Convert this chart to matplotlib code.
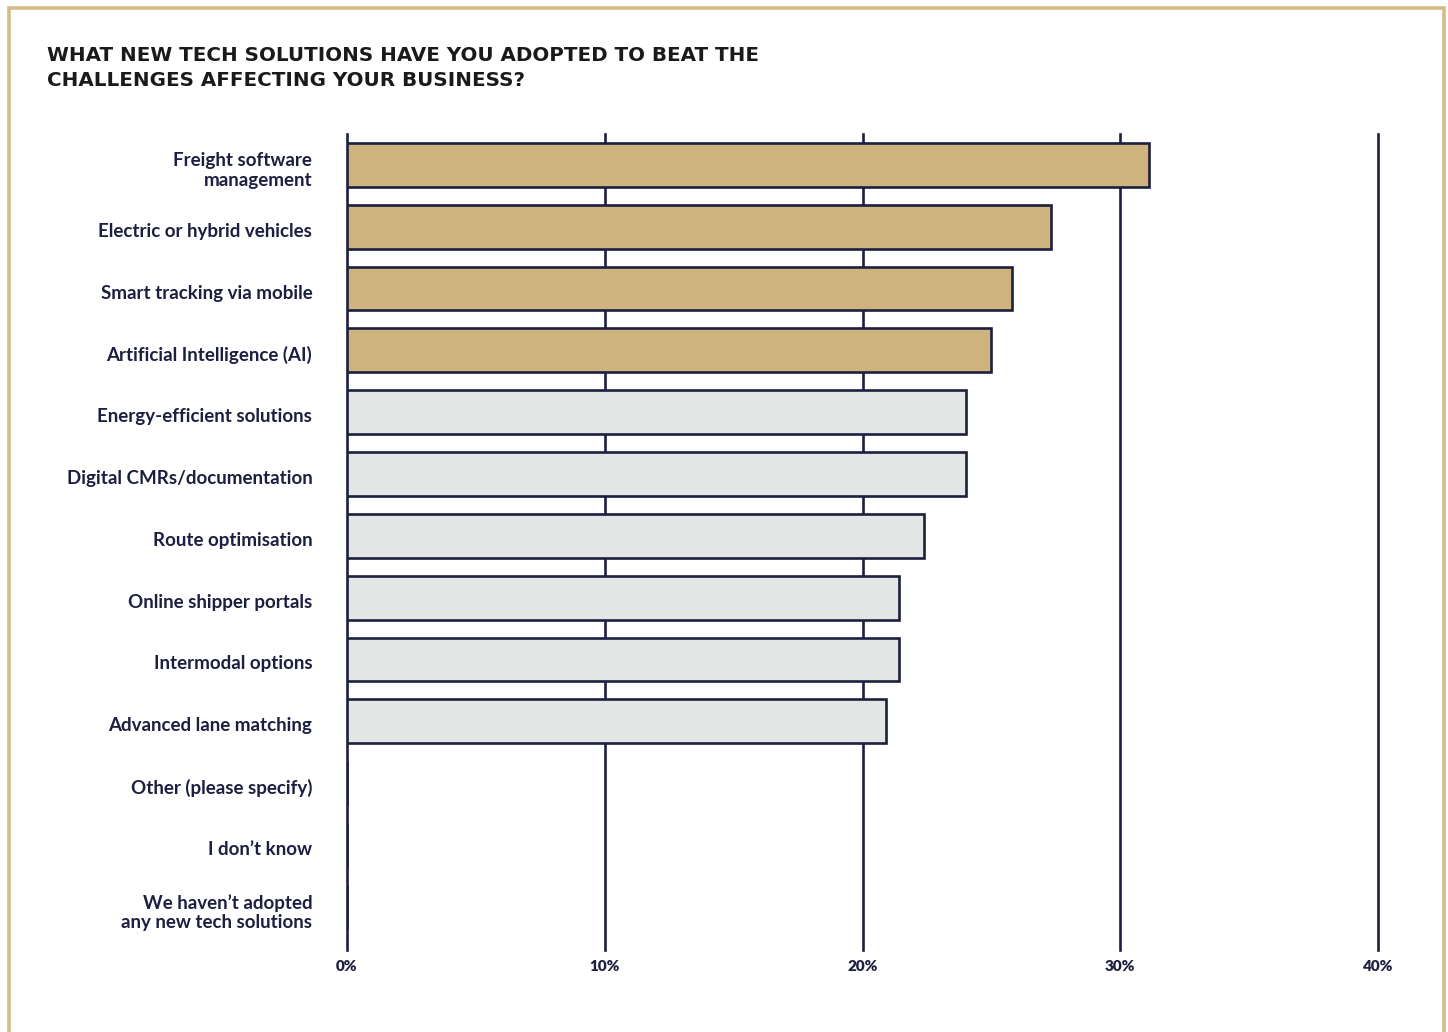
import matplotlib
matplotlib.use("Agg")
import matplotlib.pyplot as plt
from matplotlib.patches import Rectangle
from matplotlib.transforms import ScaledTranslation

labels = ["Freight software\nmanagement", "Electric or hybrid vehicles", "Smart tracking via mobile",
          "Artificial Intelligence (AI)", "Energy-efficient solutions", "Digital CMRs/documentation",
          "Route optimisation", "Online shipper portals", "Intermodal options", "Advanced lane matching",
          "Other (please specify)", "I don\u2019t know", "We haven\u2019t adopted\nany new tech solutions"]
values = [31.1, 27.3, 25.8, 25.0, 24.0, 24.0, 22.4, 21.4, 21.4, 20.9, 0, 0, 0]
highlight = [True, True, True, True, False, False, False, False, False, False, False, False, False]
xticks = [0, 10, 20, 30, 40]
xticklabels = ["0%", "10%", "20%", "30%", "40%"]

navy = "#1d1f40"
gold = "#cfb37f"
grey = "#e4e6e6"

plt.rcParams['font.family'] = ['Lato', 'DejaVu Sans']

fig = plt.figure(figsize=(14.48, 10.32), dpi=100)
ax = fig.add_axes([347/1448, 1-950/1032, (1378-347)/1448, (950-134)/1032])

colors = [gold if h else grey for h in highlight]
ypos = list(range(len(labels)))
ax.barh(ypos, values, height=0.71, color=colors, edgecolor=navy, linewidth=1.9, zorder=3)

for x in xticks:
    ax.axvline(x, color=navy, linewidth=1.9, zorder=1, clip_on=False)

ax.set_xlim(0, 40)
ax.set_ylim(12.70, -0.5)
ax.set_xticks(xticks)
ax.set_xticklabels(xticklabels, fontsize=11, fontweight='heavy', color=navy)
ax.set_yticks(ypos)
ax.set_yticklabels(labels, fontsize=13.5, fontweight='bold', color=navy, linespacing=1.15)
ax.tick_params(axis='both', length=0)
ax.tick_params(axis='y', pad=25)
ax.tick_params(axis='x', pad=7.5)
# labels sit a touch below the bar centres in the original
shift = ScaledTranslation(0, -3/100, fig.dpi_scale_trans)
for lbl in ax.get_yticklabels():
    lbl.set_transform(lbl.get_transform() + shift)
for s in ax.spines.values():
    s.set_visible(False)

fig.text(47/1448, 1-46/1032, "WHAT NEW TECH SOLUTIONS HAVE YOU ADOPTED TO BEAT THE\nCHALLENGES AFFECTING YOUR BUSINESS?",
         fontsize=14.3, color="#1a1a1a", ha='left', va='top', linespacing=1.42,
         family=['DejaVu Sans'], fontweight='bold')

# gold frame
fig.patches.append(Rectangle((9/1448, -0.05), (1444-9)/1448, 1.05-8/1032, transform=fig.transFigure,
                             fill=False, edgecolor="#d5bb89", linewidth=2.6))

fig.savefig("out.png", dpi=100)
